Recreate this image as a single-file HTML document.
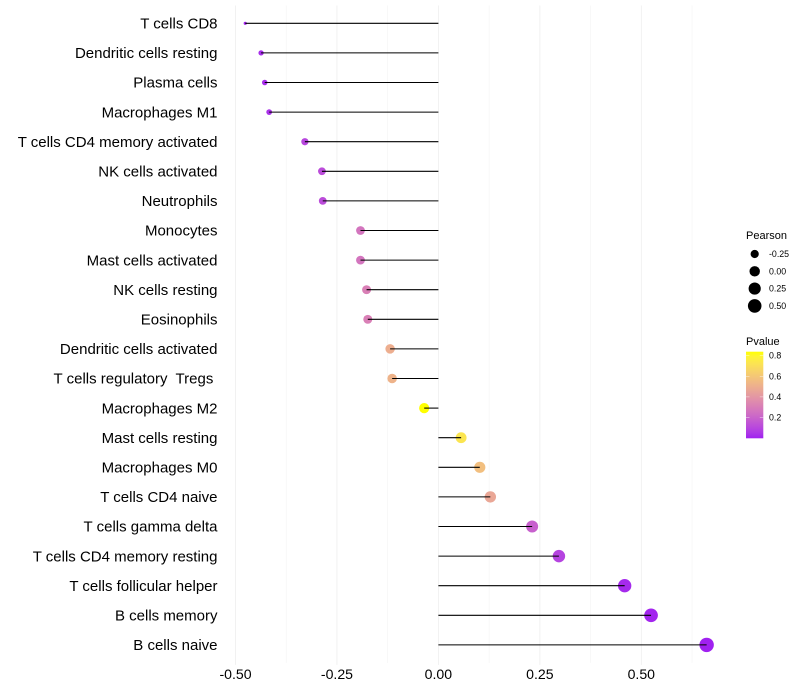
<!DOCTYPE html>
<html lang="en">
<head>
<meta charset="utf-8">
<title>Immune cell correlation lollipop chart</title>
<style>
html,body{margin:0;padding:0;background:#fff;}
svg{display:block;font-family:"Liberation Sans",Arial,sans-serif;}
text{white-space:pre;}
</style>
</head>
<body>
<svg id="chart" xmlns="http://www.w3.org/2000/svg" width="800" height="700" viewBox="0 0 800 700">
  <defs>
    <linearGradient id="pvalue-gradient" x1="0" y1="1" x2="0" y2="0"></linearGradient>
  </defs>
  <g id="grid"></g>
  <g id="points"></g>
  <g id="segments"></g>
  <g id="y-axis"></g>
  <g id="x-axis"></g>
  <g id="size-legend"></g>
  <g id="color-legend"></g>
</svg>
<script>
var categories = ["T cells CD8","Dendritic cells resting","Plasma cells","Macrophages M1","T cells CD4 memory activated","NK cells activated","Neutrophils","Monocytes","Mast cells activated","NK cells resting","Eosinophils","Dendritic cells activated","T cells regulatory  Tregs ","Macrophages M2","Mast cells resting","Macrophages M0","T cells CD4 naive","T cells gamma delta","T cells CD4 memory resting","T cells follicular helper","B cells memory","B cells naive"];
var pearson = [-0.476,-0.437,-0.428,-0.417,-0.329,-0.287,-0.285,-0.192,-0.192,-0.177,-0.174,-0.119,-0.114,-0.035,0.056,0.102,0.128,0.231,0.297,0.459,0.524,0.661];
var pvalue = [0.01,0.03,0.03,0.04,0.10,0.12,0.12,0.27,0.27,0.31,0.31,0.50,0.52,0.84,0.73,0.57,0.47,0.19,0.09,0.02,0.01,0.001];
var xMajorTicks = [-0.5,-0.25,0,0.25,0.5];
var xMajorLabels = ["-0.50","-0.25","0.00","0.25","0.50"];
var xMinorTicks = [-0.375,-0.125,0.125,0.375,0.625];
var pearsonLegendValues = [-0.25,0,0.25,0.5];
var pearsonLegendLabels = ["-0.25","0.00","0.25","0.50"];
var pvalueLegendValues = [0.8,0.6,0.4,0.2];
var pvalueLegendLabels = ["0.8","0.6","0.4","0.2"];

var SVGNS = "http://www.w3.org/2000/svg";
function make(tag, attrs, parent, txt) {
  var el = document.createElementNS(SVGNS, tag);
  for (var k in attrs) el.setAttribute(k, attrs[k]);
  if (txt !== undefined) el.textContent = txt;
  parent.appendChild(el);
  return el;
}
function xScale(v) { return 438.4 + v * 405.8; }
function yScale(i) { return 23.3 + i * 29.6; }
function pScale(p) { return 438.1 - p * 103.0; }
var panelTop = 5.5, panelBottom = 662.9;

var sizeMin = Math.min.apply(null, pearson), sizeMax = Math.max.apply(null, pearson);
function rScale(v) {
  var t = Math.max(0, (v - sizeMin) / (sizeMax - sizeMin));
  return 1.6 + 5.6 * Math.sqrt(t);
}

function rgb2lab(c) {
  var l = c.map(function (u) { u /= 255; return u > 0.04045 ? Math.pow((u + 0.055) / 1.055, 2.4) : u / 12.92; });
  var X = (0.4124 * l[0] + 0.3576 * l[1] + 0.1805 * l[2]) / 0.95047;
  var Y = (0.2126 * l[0] + 0.7152 * l[1] + 0.0722 * l[2]);
  var Z = (0.0193 * l[0] + 0.1192 * l[1] + 0.9505 * l[2]) / 1.08883;
  var f = function (t) { return t > 0.008856 ? Math.cbrt(t) : 7.787 * t + 16 / 116; };
  return [116 * f(Y) - 16, 500 * (f(X) - f(Y)), 200 * (f(Y) - f(Z))];
}
function lab2rgb(L) {
  var fy = (L[0] + 16) / 116, fx = fy + L[1] / 500, fz = fy - L[2] / 200;
  var g = function (t) { return t * t * t > 0.008856 ? t * t * t : (t - 16 / 116) / 7.787; };
  var X = g(fx) * 0.95047, Y = g(fy), Z = g(fz) * 1.08883;
  var r = 3.2406 * X - 1.5372 * Y - 0.4986 * Z;
  var gg = -0.9689 * X + 1.8758 * Y + 0.0415 * Z;
  var b = 0.0557 * X - 0.2040 * Y + 1.0570 * Z;
  return [r, gg, b].map(function (u) {
    u = u > 0.0031308 ? 1.055 * Math.pow(u, 1 / 2.4) - 0.055 : 12.92 * u;
    return Math.round(Math.min(1, Math.max(0, u)) * 255);
  });
}
var labLow = rgb2lab([160, 32, 240]), labHigh = rgb2lab([255, 255, 0]);
var pMax = 0.84;
function colorScale(p) {
  var t = Math.min(1, Math.max(0, p / pMax));
  var c = lab2rgb([0, 1, 2].map(function (i) { return labLow[i] + (labHigh[i] - labLow[i]) * t; }));
  return "rgb(" + c.join(",") + ")";
}

var grid = document.getElementById("grid");
xMinorTicks.forEach(function (v) {
  var ln = make("line", {x1: xScale(v), x2: xScale(v), y1: panelTop, y2: panelBottom, stroke: "#f3f3f3", "stroke-width": 0.6}, grid);
  
  
});
xMajorTicks.forEach(function (v) {
  var ln = make("line", {x1: xScale(v), x2: xScale(v), y1: panelTop, y2: panelBottom + 2, stroke: "#eeeeee", "stroke-width": 0.8}, grid);
  
  
});

var pointsG = document.getElementById("points"), segG = document.getElementById("segments");
var yG = document.getElementById("y-axis"), xG = document.getElementById("x-axis");
categories.forEach(function (name, i) {
  var cy = yScale(i), cx = xScale(pearson[i]);
  var pt = make("circle", {cx: cx, cy: cy, r: rScale(pearson[i]), fill: colorScale(pvalue[i])}, pointsG);
  
  
  var seg = make("line", {x1: xScale(0), x2: cx, y1: cy, y2: cy, stroke: "#000", "stroke-width": 1.07}, segG);
  
  
  var lab = make("text", {x: 217.5, y: cy + 5.2, "text-anchor": "end", "font-size": 15, fill: "#000"}, yG, name);
  
  
});
xMajorTicks.forEach(function (v, i) {
  var t = make("text", {x: xScale(v), y: 679, "text-anchor": "middle", "font-size": 14.1, fill: "#000"}, xG, xMajorLabels[i]);
  
  
});

var sizeG = document.getElementById("size-legend");
var pearsonTitle = make("text", {x: 746, y: 239, "font-size": 11, fill: "#000"}, sizeG, "Pearson");


pearsonLegendValues.forEach(function (v, i) {
  var y = 254 + i * 17.3;
  var c = make("circle", {cx: 754.7, cy: y, r: rScale(v), fill: "#000"}, sizeG);
  
  
  var t = make("text", {x: 769, y: y + 3, "font-size": 8.8, fill: "#000"}, sizeG, pearsonLegendLabels[i]);
  
  
});

var colG = document.getElementById("color-legend");
var pvalueTitle = make("text", {x: 746, y: 345, "font-size": 11, fill: "#000"}, colG, "Pvalue");


var gradient = document.getElementById("pvalue-gradient");
for (var s = 0; s <= 20; s++) {
  make("stop", {offset: (s * 5) + "%", "stop-color": colorScale(pMax * s / 20)}, gradient);
}
var bar = make("rect", {x: 746, y: 351.7, width: 17.3, height: 86.6, fill: "url(#pvalue-gradient)"}, colG);


pvalueLegendValues.forEach(function (v, i) {
  var y = pScale(v);
  var a = make("line", {x1: 746, x2: 749.5, y1: y, y2: y, stroke: "#fff", "stroke-width": 0.5, "stroke-opacity": 0.8}, colG);
  
  
  var b = make("line", {x1: 759.8, x2: 763.3, y1: y, y2: y, stroke: "#fff", "stroke-width": 0.5, "stroke-opacity": 0.8}, colG);
  
  
  var t = make("text", {x: 769, y: y + 3, "font-size": 8.8, fill: "#000"}, colG, pvalueLegendLabels[i]);
  
  
});
</script>
</body>
</html>
